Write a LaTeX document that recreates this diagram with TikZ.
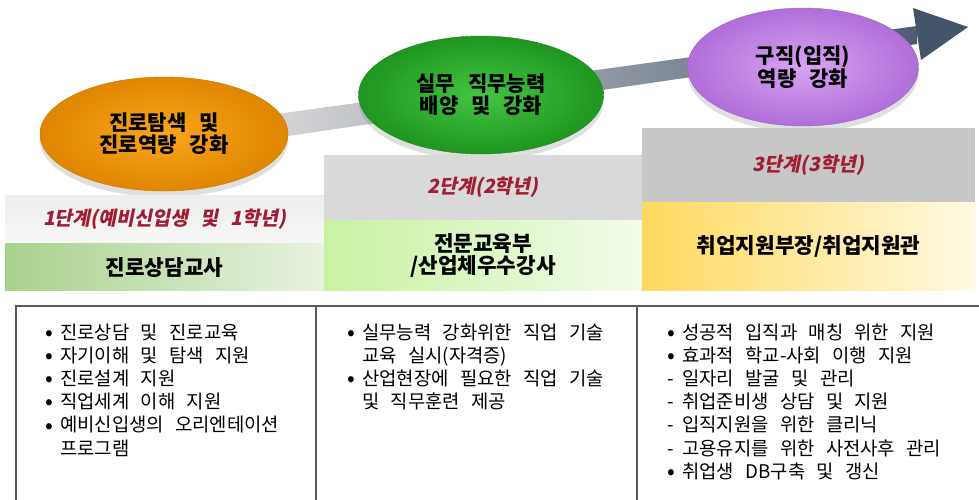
\documentclass[tikz,border=0pt]{standalone}
\usepackage{fontspec}
\usepackage{xcolor}
\usepackage{tikz}
\usetikzlibrary{shapes}
\usetikzlibrary{arrows}
\usetikzlibrary{shadows}
\newfontfamily\kr[WordSpace=2.7]{Noto Sans CJK KR}
\newfontfamily\krit[WordSpace=2.7,FakeSlant=0.2]{Noto Sans CJK KR}
\definecolor{stagered}{HTML}{A01E32}
\definecolor{framegray}{HTML}{5A5A5A}
\definecolor{arrowdark}{HTML}{44546A}
\definecolor{orangein}{HTML}{FAA51E}
\definecolor{orangeout}{HTML}{E08600}
\definecolor{greenin}{HTML}{44C444}
\definecolor{greenout}{HTML}{1F961F}
\definecolor{purplein}{HTML}{D8A4F2}
\definecolor{purpleout}{HTML}{B06ED9}
\definecolor{roleonel}{HTML}{A9D18E}
\definecolor{roleoner}{HTML}{E8F2E0}
\definecolor{roletwol}{HTML}{C8F2A2}
\definecolor{roletwor}{HTML}{F2FBEA}
\definecolor{rolethreel}{HTML}{FFD95E}
\definecolor{rolethreer}{HTML}{FFFAE3}
\newcommand{\itm}{\makebox[15pt][l]{\raisebox{-1.3pt}{\fontsize{23}{23}\selectfont •}}}
\newcommand{\dsh}{\makebox[15pt][l]{-}}
\newcommand{\hang}{\hspace*{15pt}}
\tikzset{
	goal node/.style={ellipse,inner sep=0pt,align=center,font=\kr\bfseries\fontsize{21}{22}\selectfont,
		drop shadow={shadow xshift=0pt,shadow yshift=-6pt,opacity=0.25}},
	band node/.style={rectangle,inner sep=0pt,align=center,anchor=north},
	stage node/.style={band node,font=\krit\bfseries\fontsize{19.5}{22}\selectfont,text=stagered},
	role node/.style={band node,font=\kr\bfseries\fontsize{21.3}{22.5}\selectfont},
	list node/.style={anchor=base west,inner sep=0pt,font=\kr\fontsize{18.8}{23.2}\selectfont}
}

\begin{document}
\begin{tikzpicture}[x=1pt,y=-1pt]
\useasboundingbox (0,0) rectangle (979,499);
\clip (0,0) rectangle (979,499);
\coordinate (tail) at (240,131);
\coordinate (tip) at (968,27);
\shade[left color=black!14!white,middle color=arrowdark!62!white,right color=arrowdark!95!white]
	(tail) ++(0,-12) -- (917,26) -- (917,44) -- (240,143) -- cycle;
\fill[arrowdark] (913,8) -- (tip) -- (921,60) -- cycle;
\node [goal node,minimum width=248pt,minimum height=114pt,inner color=orangein,outer color=orangeout,draw=orangeout!90!black] (goal1) at (164,134) {진로탐색 및\\진로역량 강화};
\node [goal node,minimum width=245pt,minimum height=118pt,inner color=greenin,outer color=greenout,draw=greenout!90!black] (goal2) at (481,95) {실무 직무능력\\배양 및 강화};
\node [goal node,minimum width=231pt,minimum height=118pt,inner color=purplein,outer color=purpleout,draw=purpleout!90!black] (goal3) at (803,67) {구직(입직)\\역량 강화};
\node [stage node,minimum width=319pt,minimum height=48pt,top color=black!7,bottom color=black!3] (stage1) at (164.5,195) {1단계(예비신입생 및 1학년)};
\node [role node,minimum width=319pt,minimum height=47pt,left color=roleonel,right color=roleoner] (role1) at (stage1.south) {진로상담교사};
\node [stage node,minimum width=318pt,minimum height=65pt,fill=black!15] (stage2) at (483,155) {2단계(2학년)};
\node [role node,minimum width=318pt,minimum height=70pt,left color=roletwol,right color=roletwor] (role2) at (stage2.south) {전문교육부\\/산업체우수강사};
\node [stage node,minimum width=333pt,minimum height=74pt,fill=black!22] (stage3) at (808.5,128) {3단계(3학년)};
\node [role node,minimum width=333pt,minimum height=88pt,left color=rolethreel,right color=rolethreer] (role3) at (stage3.south) {취업지원부장/취업지원관};
\draw [framegray,line width=1.3pt] (16,520) |- (990,306) (316,306) -- (316,520) (637,306) -- (637,520);
\node [list node] (list1) at (45,339) {\begin{tabular}[t]{@{}l@{}}
	\itm 진로상담 및 진로교육\\
	\itm 자기이해 및 탐색 지원\\
	\itm 진로설계 지원\\
	\itm 직업세계 이해 지원\\
	\itm 예비신입생의 오리엔테이션\\
	\hang 프로그램
\end{tabular}};
\node [list node] (list2) at (347,339) {\begin{tabular}[t]{@{}l@{}}
	\itm 실무능력 강화위한 직업 기술\\
	\hang 교육 실시(자격증)\\
	\itm 산업현장에 필요한 직업 기술\\
	\hang 및 직무훈련 제공
\end{tabular}};
\node [list node] (list3) at (667,339) {\begin{tabular}[t]{@{}l@{}}
	\itm 성공적 입직과 매칭 위한 지원\\
	\itm 효과적 학교-사회 이행 지원\\
	\dsh 일자리 발굴 및 관리\\
	\dsh 취업준비생 상담 및 지원\\
	\dsh 입직지원을 위한 클리닉\\
	\dsh 고용유지를 위한 사전사후 관리\\
	\itm 취업생 DB구축 및 갱신
\end{tabular}};
\end{tikzpicture}
\end{document}
